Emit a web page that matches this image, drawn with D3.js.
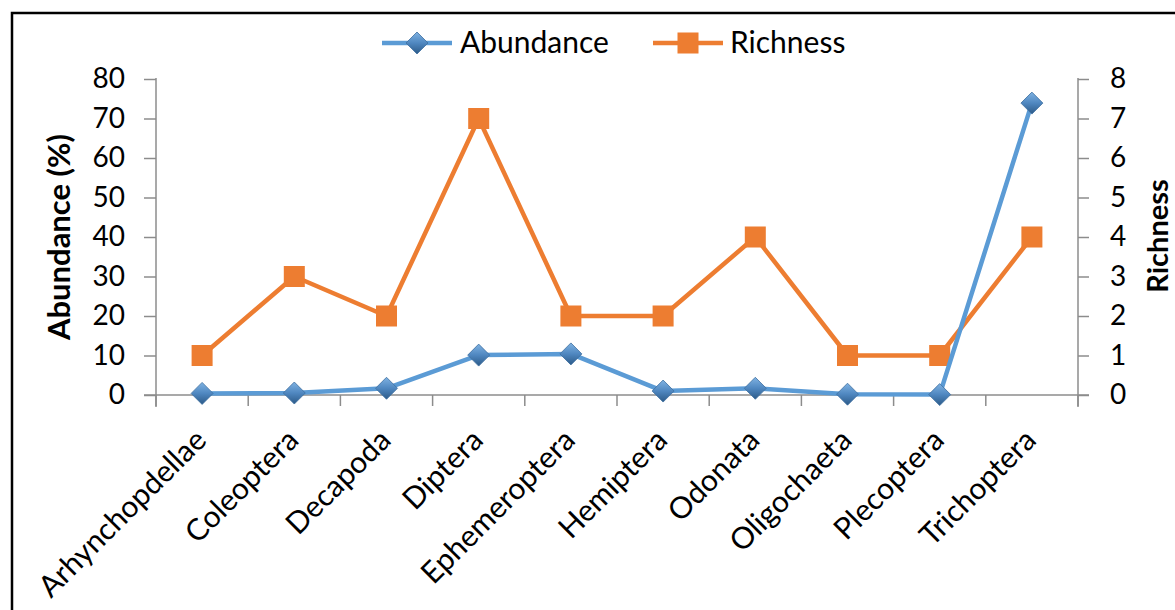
<!DOCTYPE html>
<html>
<head>
<meta charset="utf-8">
<script src="https://cdn.jsdelivr.net/npm/d3@7"></script>
<style>
  html, body { margin: 0; padding: 0; background: #fff; }
  svg { display: block; }
  text { font-family: Lato, "Open Sans", sans-serif; fill: #000; }
</style>
</head>
<body>
<svg id="chart" width="1175" height="610"></svg>
<script>
const categories = ["Arhynchopdellae", "Coleoptera", "Decapoda", "Diptera", "Ephemeroptera",
                    "Hemiptera", "Odonata", "Oligochaeta", "Plecoptera", "Trichoptera"];
const abundance = [0.4, 0.5, 1.7, 10.1, 10.4, 1.0, 1.7, 0.2, 0.1, 73.9];
const richness  = [1, 3, 2, 7, 2, 2, 4, 1, 1, 4];
const abundanceTicks = [0, 10, 20, 30, 40, 50, 60, 70, 80];
const richnessTicks  = [0, 1, 2, 3, 4, 5, 6, 7, 8];

const blue = "#5b9bd5", orange = "#ed7d31", axisGrey = "#8c8c8c";
const svg = d3.select("#chart");

// outer frame (open to the right and bottom)
svg.append("path")
  .attr("d", "M12,612 L12,13 L1180,13")
  .attr("fill", "none").attr("stroke", "#000").attr("stroke-width", 2.5);

const plotLeft = 156, plotRight = 1078, plotTop = 79, plotBottom = 395;

const x = d3.scaleBand().domain(categories).range([plotLeft, plotRight]).padding(0);
const yL = d3.scaleLinear().domain([0, 80]).range([plotBottom, plotTop]);
const yR = d3.scaleLinear().domain([0, 8]).range([plotBottom, plotTop]);

// diamond shading
const defs = svg.append("defs");
const g1 = defs.append("linearGradient").attr("id", "diamondFill")
  .attr("x1", "0").attr("y1", "0").attr("x2", "0").attr("y2", "1");
g1.append("stop").attr("offset", "0%").attr("stop-color", "#7fb2e2");
g1.append("stop").attr("offset", "50%").attr("stop-color", "#4f87c0");
g1.append("stop").attr("offset", "100%").attr("stop-color", "#2c5a88");

// left axis
const axL = svg.append("g").attr("transform", `translate(${plotLeft},0)`)
  .call(d3.axisLeft(yL).tickValues(abundanceTicks).tickSize(12).tickPadding(19).tickSizeOuter(0));
// right axis
const axR = svg.append("g").attr("transform", `translate(${plotRight},0)`)
  .call(d3.axisRight(yR).tickValues(richnessTicks).tickSize(11).tickPadding(21).tickSizeOuter(0));
[axL, axR].forEach(a => {
  a.select(".domain").attr("stroke", axisGrey).attr("stroke-width", 1.5)
    .attr("d", `M0,${plotTop - 1}V${plotBottom + 12}`);
  a.selectAll(".tick line").attr("stroke", axisGrey).attr("stroke-width", 1.5);
  a.selectAll(".tick text").style("font-size", "28px").attr("font-family", "Lato, sans-serif").attr("fill", "#000");
});

// category axis: ticks at band boundaries
const xAxisG = svg.append("g");
xAxisG.append("line").attr("x1", plotLeft - 12).attr("x2", plotRight + 11)
  .attr("y1", plotBottom).attr("y2", plotBottom).attr("stroke", axisGrey).attr("stroke-width", 1.5);
const bounds = categories.map(c => x(c)).concat([plotRight]);
xAxisG.selectAll("line.tk").data(bounds).join("line").attr("class", "tk")
  .attr("x1", d => d).attr("x2", d => d).attr("y1", plotBottom).attr("y2", plotBottom + 11)
  .attr("stroke", axisGrey).attr("stroke-width", 1.5);
xAxisG.selectAll("text").data(categories).join("text")
  .attr("transform", d => `translate(${x(d) + x.bandwidth() / 2 + 6},${plotBottom + 47}) rotate(-45)`)
  .attr("text-anchor", "end")
  .style("font-size", "30px").text(d => d);

// axis titles
svg.append("text").attr("transform", `translate(70,237) rotate(-90)`)
  .attr("text-anchor", "middle").style("font-size", "31px").style("font-weight", "bold")
  .text("Abundance (%)");
svg.append("text").attr("transform", `translate(1168,236) rotate(-90)`)
  .attr("text-anchor", "middle").style("font-size", "29px").style("font-weight", "bold")
  .text("Richness");

const cx = d => x(d) + x.bandwidth() / 2;

// richness series
svg.append("path").datum(richness)
  .attr("d", d3.line().x((d, i) => cx(categories[i])).y(d => yR(d)))
  .attr("fill", "none").attr("stroke", orange).attr("stroke-width", 4.5).attr("stroke-linejoin", "round");
svg.selectAll("rect.rich").data(richness).join("rect").attr("class", "rich")
  .attr("x", (d, i) => cx(categories[i]) - 10.5).attr("y", d => yR(d) - 10.5)
  .attr("width", 21).attr("height", 21).attr("fill", orange);

// abundance series
svg.append("path").datum(abundance)
  .attr("d", d3.line().x((d, i) => cx(categories[i])).y(d => yL(d)))
  .attr("fill", "none").attr("stroke", blue).attr("stroke-width", 4.5).attr("stroke-linejoin", "round");
const diamond = (px, py, r) => `M${px},${py - r}L${px + r},${py}L${px},${py + r}L${px - r},${py}Z`;
svg.selectAll("path.ab").data(abundance).join("path").attr("class", "ab")
  .attr("d", (d, i) => diamond(cx(categories[i]), yL(d), 11))
  .attr("fill", "url(#diamondFill)").attr("stroke", "#3d6f9f").attr("stroke-width", 0.8);

// legend
const leg = svg.append("g");
const ly = 43;
leg.append("line").attr("x1", 382).attr("x2", 452).attr("y1", ly).attr("y2", ly)
  .attr("stroke", blue).attr("stroke-width", 4.5);
leg.append("path").attr("d", diamond(417, ly, 11)).attr("fill", "url(#diamondFill)")
  .attr("stroke", "#3d6f9f").attr("stroke-width", 0.8);
leg.append("text").attr("x", 460).attr("y", 53).style("font-size", "30px").text("Abundance");
leg.append("line").attr("x1", 653).attr("x2", 723).attr("y1", ly).attr("y2", ly)
  .attr("stroke", orange).attr("stroke-width", 4.5);
leg.append("rect").attr("x", 677.5).attr("y", ly - 10.5).attr("width", 21).attr("height", 21).attr("fill", orange);
leg.append("text").attr("x", 730).attr("y", 53).style("font-size", "30px").text("Richness");
</script>
</body>
</html>
